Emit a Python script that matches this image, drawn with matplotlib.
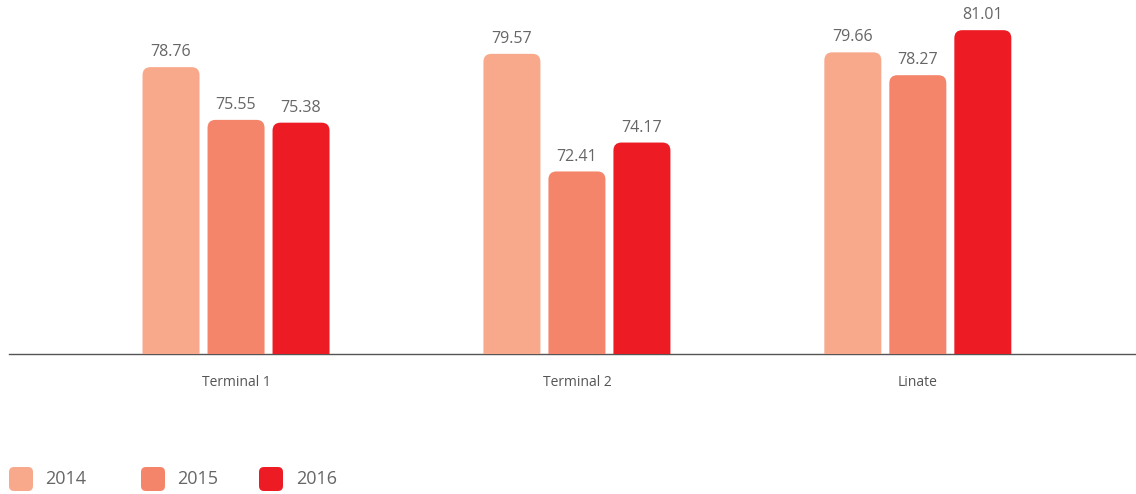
import numpy as np
import matplotlib.pyplot as plt
from matplotlib.patches import FancyBboxPatch

plt.rcParams['font.family'] = ['Open Sans', 'DejaVu Sans']

# data
terminals = ['Terminal 1', 'Terminal 2', 'Linate']
years = ['2014', '2015', '2016']
v2014 = [78.76, 79.57, 79.66]
v2015 = [75.55, 72.41, 78.27]
v2016 = [75.38, 74.17, 81.01]
colors = ['#F9A98B', '#F4856A', '#ED1C24']
text_col = '#666666'

W, H, DPI = 1136, 494, 100
fig = plt.figure(figsize=(W / DPI, H / DPI), dpi=DPI)
ax = fig.add_axes([9 / W, 140 / H, 1127 / W, 354 / H])

ymin = 61.3
ymax = ymin + 354 / 16.43
x0, x1 = -0.666, 2.64
ax.set_xlim(x0, x1)
ax.set_ylim(ymin, ymax)
ppx = 1127 / (x1 - x0)   # pixels per x unit
ppy = 354 / (ymax - ymin)  # pixels per y unit

width = 57 / ppx
step = 65 / ppx
rad = 8  # corner radius, px
x = np.arange(len(terminals))

for i, (vals, c) in enumerate(zip([v2014, v2015, v2016], colors)):
    xs = x + (i - 1) * step
    for xi, v in zip(xs, vals):
        # rounded top; bottom extends under the axis and is clipped
        p = FancyBboxPatch((xi - width / 2, ymin - 2), width, v - ymin + 2,
                           boxstyle=f'round,pad=0,rounding_size={rad / ppx}',
                           mutation_aspect=ppx / ppy,
                           fc=c, ec='none', zorder=3)
        ax.add_patch(p)
        ax.annotate(f'{v:.2f}', (xi, v), xytext=(0, 5), textcoords='offset points',
                    ha='center', va='bottom', fontsize=11.5, color=text_col)

for s in ['top', 'right', 'left']:
    ax.spines[s].set_visible(False)
ax.spines['bottom'].set_color('#555555')
ax.spines['bottom'].set_linewidth(1.0)
ax.set_yticks([])
ax.set_xticks(x)
ax.set_xticklabels(terminals)
ax.tick_params(axis='x', length=0, pad=15, labelsize=10, labelcolor='#555555')

# legend (drawn by hand, rounded squares)
box_x = [9, 141, 259]
txt_x = [45, 177, 296]
for bx, tx, yr, c in zip(box_x, txt_x, years, colors):
    sq = FancyBboxPatch((bx / DPI, 3 / DPI), 24 / DPI, 24 / DPI,
                        boxstyle=f'round,pad=0,rounding_size={5 / DPI}',
                        transform=fig.dpi_scale_trans, fc=c, ec='none')
    fig.add_artist(sq)
    fig.text(tx / W, 15 / H, yr, ha='left', va='center', fontsize=13, color=text_col)

fig.savefig('out.png', dpi=DPI)
